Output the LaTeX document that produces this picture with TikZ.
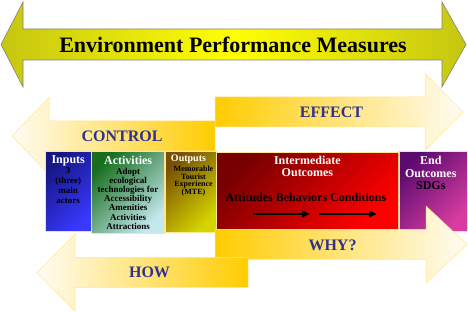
\documentclass[tikz,border=0pt]{standalone}
\usepackage{fontspec}
\setmainfont{Liberation Serif}
\usetikzlibrary{arrows.meta, positioning}

\definecolor{labelblue}{RGB}{46,49,146}
\definecolor{bannerolive}{RGB}{198,198,18}
\definecolor{flowgold}{RGB}{255,204,0}
\definecolor{flowpale}{RGB}{255,252,244}
\definecolor{rimgold}{RGB}{255,228,150}
\definecolor{inputsdark}{RGB}{22,22,130}
\definecolor{inputslight}{RGB}{56,56,255}
\definecolor{activitiesdark}{RGB}{24,110,30}
\definecolor{activitieslight}{RGB}{196,232,238}
\definecolor{outputsdark}{RGB}{120,80,0}
\definecolor{outputslight}{RGB}{212,212,0}
\definecolor{outcomesdark}{RGB}{120,0,0}
\definecolor{outcomeslight}{RGB}{255,0,0}
\definecolor{enddark}{RGB}{90,10,110}
\definecolor{endlight}{RGB}{215,60,160}

\begin{document}
\begin{tikzpicture}[x=1pt, y=1pt,
    banner/.style={draw=gray, line width=0.6pt, left color=bannerolive, right color=bannerolive, middle color=yellow},
    flowright/.style={draw=rimgold, line width=0.5pt, left color=flowgold, right color=flowpale},
    flowleft/.style={draw=rimgold, line width=0.5pt, left color=flowpale, right color=flowgold},
    flowlabel/.style={text=labelblue, font=\fontsize{16}{18}\selectfont\bfseries, inner sep=0pt},
    stage/.style={draw=rimgold, line width=0.4pt, top color=#1dark, bottom color=#1light, shading angle=45, minimum height=80pt, inner sep=0pt},
    stagetitle/.style={text=white, font=\fontsize{12}{12.4}\selectfont\bfseries, inner sep=0pt, align=center},
    stagebody/.style={font=\fontsize{9}{9.2}\selectfont\bfseries, inner sep=0pt, align=center},
    chainarrow/.style={-{Triangle[length=8pt, width=6.5pt]}, line width=2pt}
  ]
  \useasboundingbox (0,0) rectangle (468,312);

  % banner
  \draw[banner] (1,267.5) -- (23,310) -- (23,283) -- (442,283) -- (442,310) -- (466,267.5)
    -- (442,225) -- (442,252) -- (23,252) -- (23,225) -- cycle;
  \node[font=\fontsize{22}{26}\selectfont\bfseries, inner sep=0pt] (measures) at (233,267.5) {Environment Performance Measures};

  % control / effect
  \draw[flowleft] (12,176) -- (49,214.5) -- (49,191) -- (215,191) -- (215,161) -- (49,161) -- (49,137.5) -- cycle;
  \draw[flowright] (215,185) -- (215,215) -- (425,215) -- (425,238.5) -- (463,200) -- (425,161.5) -- (425,185) -- cycle;
  \node[flowlabel] (control) at (122,176) {CONTROL};
  \node[flowlabel] (effect) at (331.5,199.5) {EFFECT};

  % stages
  \node[stage=inputs, minimum width=46pt, anchor=north west] (inputs) at (45,161) {};
  \node[stage=activities, minimum width=73pt, minimum height=82pt, right=0pt of inputs.north east, anchor=north west] (activities) {};
  \node[stage=outputs, minimum width=51pt, minimum height=81pt, right=0pt of activities.north east, anchor=north west] (outputs) {};
  \node[stage=outcomes, minimum width=182pt, minimum height=77pt, right=0pt of outputs.north east, anchor=north west, yshift=-1pt] (intermediate) {};
  \node[stage=end, minimum width=68pt, right=0pt of intermediate.north east, anchor=north west, yshift=1pt] (end) {};

  \node[stagetitle, below=4.5pt of inputs.north] (inputs-title) {Inputs};
  \node[stagebody, font=\fontsize{9}{10}\selectfont\bfseries, below=16.7pt of inputs.north] (inputs-body) {3\\(three)\\main\\actors};
  \node[stagetitle, below=4.7pt of activities.north] (activities-title) {Activities};
  \node[stagebody, below=16.7pt of activities.north] (activities-body) {Adopt\\ecological\\technologies for\\Accessibility\\Amenities\\Activities\\Attractions};
  \node[stagetitle, font=\fontsize{10}{11}\selectfont\bfseries, below=3.7pt of outputs.north, xshift=-2pt] (outputs-title) {Outputs};
  \node[stagebody, font=\fontsize{8}{7.6}\selectfont\bfseries, below=15pt of outputs.north, xshift=3pt] (outputs-body) {Memorable\\Tourist\\Experience\\(MTE)};
  \node[stagetitle, font=\fontsize{12}{12.3}\selectfont\bfseries, below=4pt of intermediate.north] (intermediate-title) {Intermediate\\Outcomes};
  \node[stagebody, font=\fontsize{12}{14}\selectfont\bfseries, below=41pt of intermediate.north, xshift=-1.5pt] (chain) {Attitudes Behaviors Conditions};
  \node[stagetitle, font=\fontsize{12}{12.5}\selectfont\bfseries, below=5pt of end.north, xshift=-2pt] (end-title) {End\\Outcomes\\\textcolor{black}{SDGs}};

  \coordinate (attitudes-tail) at (253,98);
  \coordinate (behaviors-head) at (310,98);
  \coordinate (behaviors-tail) at (319,98);
  \coordinate (conditions-head) at (377,98);
  \draw[chainarrow] (attitudes-tail) -- (behaviors-head);
  \draw[chainarrow] (behaviors-tail) -- (conditions-head);

  % why / how
  \draw[flowright] (215,52.5) -- (215,82.5) -- (426,82.5) -- (426,106) -- (467,67.5) -- (426,29) -- (426,52.5) -- cycle;
  \draw[flowleft] (37,39.5) -- (75,78) -- (75,54.5) -- (248,54.5) -- (248,24.5) -- (75,24.5) -- (75,1) -- cycle;
  \node[flowlabel] (why) at (332.5,67) {WHY?};
  \node[flowlabel] (how) at (149.5,39.5) {HOW};
\end{tikzpicture}
\end{document}
